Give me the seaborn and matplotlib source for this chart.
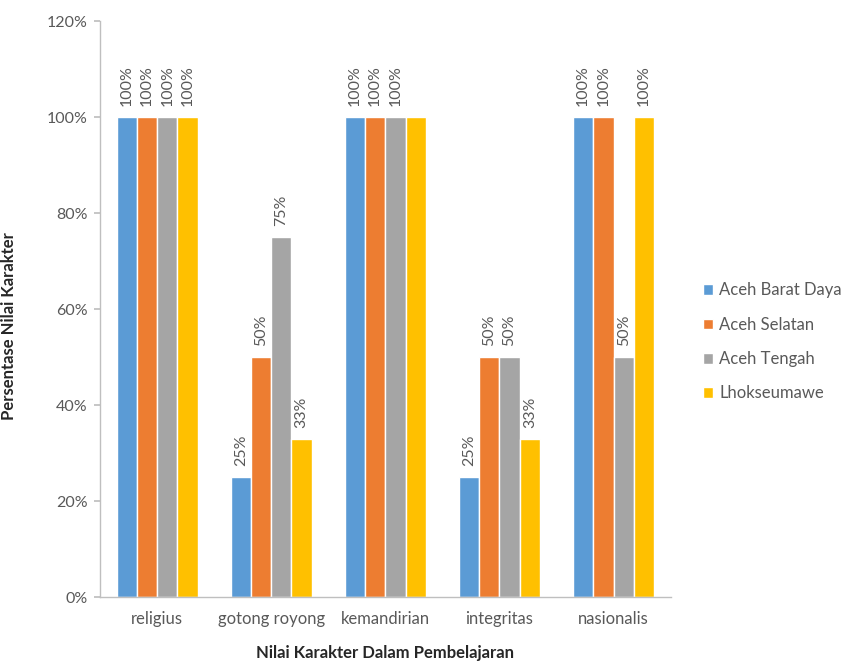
import matplotlib
matplotlib.use("Agg")
import matplotlib.pyplot as plt
import seaborn as sns
import pandas as pd
from matplotlib.ticker import PercentFormatter

categories = ["religius", "gotong royong", "kemandirian", "integritas", "nasionalis"]
series = ["Aceh Barat Daya", "Aceh Selatan", "Aceh Tengah", "Lhokseumawe"]
aceh_barat_daya = [100, 25, 100, 25, 100]
aceh_selatan = [100, 50, 100, 50, 100]
aceh_tengah = [100, 75, 100, 50, 50]
lhokseumawe = [100, 33, 100, 33, 100]
# data labels as shown (kemandirian / Lhokseumawe has no label)
labels = {
    "Aceh Barat Daya": ["100%", "25%", "100%", "25%", "100%"],
    "Aceh Selatan": ["100%", "50%", "100%", "50%", "100%"],
    "Aceh Tengah": ["100%", "75%", "100%", "50%", "50%"],
    "Lhokseumawe": ["100%", "33%", "", "33%", "100%"],
}
colors = ["#5B9BD5", "#ED7D31", "#A5A5A5", "#FFC000"]

values = [aceh_barat_daya, aceh_selatan, aceh_tengah, lhokseumawe]
rows = []
for s, vals in zip(series, values):
    for c, v in zip(categories, vals):
        rows.append({"kategori": c, "wilayah": s, "nilai": v})
df = pd.DataFrame(rows)

sns.set_theme(style="white")
plt.rcParams["font.family"] = ["Lato", "DejaVu Sans"]
text_color = "#595959"

fig = plt.figure(figsize=(8.44, 6.66), dpi=100)
ax = fig.add_axes([0.1185, 0.1036, 0.676, 0.8644])

sns.barplot(data=df, x="kategori", y="nilai", hue="wilayah", order=categories,
            hue_order=series, palette=colors, width=0.71, gap=0, saturation=1,
            ax=ax, legend=True, errorbar=None)

for cont, s in zip(ax.containers, series):
    ax.bar_label(cont, labels=labels[s], rotation=90, padding=8,
                 fontsize=11.5, color=text_color)

ax.set_ylim(0, 120)
ax.set_yticks([0, 20, 40, 60, 80, 100, 120])
ax.yaxis.set_major_formatter(PercentFormatter(decimals=0))
ax.set_xlim(-0.5, 4.5)

for side in ["top", "right"]:
    ax.spines[side].set_visible(False)
for side in ["left", "bottom"]:
    ax.spines[side].set_color("#BFBFBF")
    ax.spines[side].set_linewidth(1.0)

ax.tick_params(axis="y", which="major", left=True, length=4, color="#BFBFBF",
               labelsize=11.5, labelcolor=text_color, pad=5)
ax.tick_params(axis="x", length=0, labelsize=12, labelcolor=text_color, pad=10)

ax.set_xlabel("Nilai Karakter Dalam Pembelajaran", fontsize=12, fontweight="bold",
              color="#262626", labelpad=13)
ax.set_ylabel("Persentase Nilai Karakter", fontsize=12, fontweight="bold",
              color="#262626")
ax.yaxis.set_label_coords(-0.145, 0.47)

leg = ax.legend(loc="center left", bbox_to_anchor=(1.03, 0.443), frameon=False,
                fontsize=12, handlelength=0.6, handleheight=0.6,
                handletextpad=0.4, labelspacing=1.1)
for t in leg.get_texts():
    t.set_color(text_color)

fig.savefig("out.png", dpi=100)
